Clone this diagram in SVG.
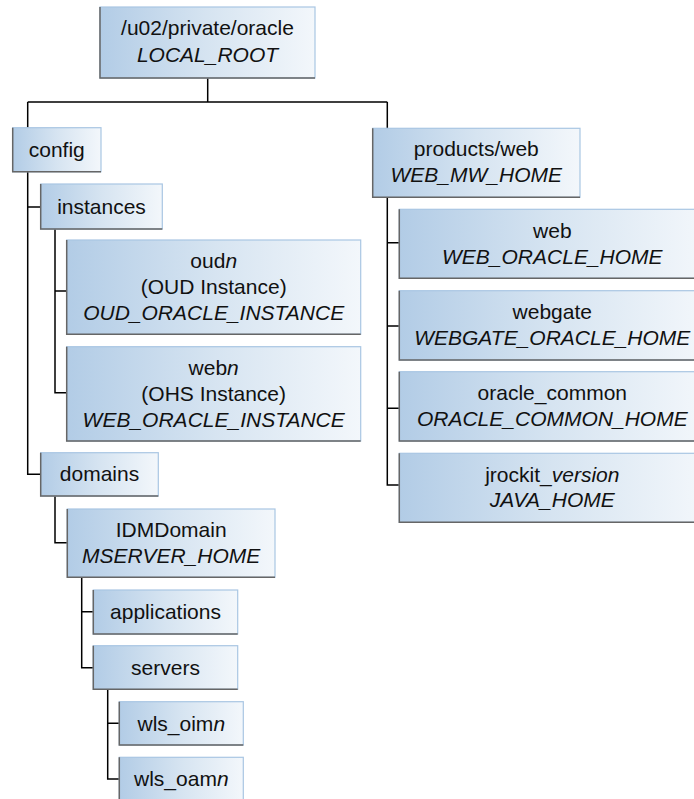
<svg xmlns="http://www.w3.org/2000/svg" width="694" height="799" viewBox="0 0 694 799">
<defs>
<linearGradient id="g" x1="0" y1="0" x2="1" y2="0">
<stop offset="0" stop-color="#b2cce6"/>
<stop offset="0.5" stop-color="#d6e4f1"/>
<stop offset="1" stop-color="#f3f7fb"/>
</linearGradient>
</defs>
<style>
.box rect{fill:url(#g);stroke:#a9c6e3;stroke-width:1.2}
.box path{fill:none;stroke:#666;stroke-width:1.5}
text{font-family:"Liberation Sans",Arial,sans-serif;font-size:21px;fill:#111;text-anchor:middle}
.i{font-style:italic}
#connectors path{fill:none;stroke:#000;stroke-width:1.5}
</style>
<g id="connectors">
<path d="M207.7,78V102M27.7,102H387.3"/>
<path d="M27.7,102V474.3H40.7M27.7,207H40.7"/>
<path d="M55,229V392.7H66.7M55,291H66.7"/>
<path d="M55,496V542.7H67.3"/>
<path d="M81.7,577V667.7H93.3M81.7,611.7H93.3"/>
<path d="M107.7,689V779H119.3M107.7,723.3H119.3"/>
<path d="M387.3,102V485H399.3M387.3,242.7H399.3M387.3,326H399.3M387.3,408.3H399.3"/>
</g>
<g id="root" class="box"><rect x="100" y="7" width="215" height="71"/><path d="M100,7V78H315"/><text x="207.5" y="35">/u02/private/oracle</text><text x="207.5" y="62" class="i">LOCAL_ROOT</text></g>
<g id="config" class="box"><rect x="12.7" y="127.7" width="88.3" height="44"/><path d="M12.7,127.7V171.7H101"/><text x="56.8" y="157">config</text></g>
<g id="instances" class="box"><rect x="40.7" y="184" width="121.6" height="45"/><path d="M40.7,184V229H162.3"/><text x="101.5" y="214">instances</text></g>
<g id="oud" class="box"><rect x="66.7" y="240" width="294" height="94.3"/><path d="M66.7,240V334.3H360.7"/><text x="213.7" y="268">oud<tspan class="i">n</tspan></text><text x="213.7" y="294">(OUD Instance)</text><text x="213.7" y="319.5" class="i">OUD_ORACLE_INSTANCE</text></g>
<g id="webinst" class="box"><rect x="66.7" y="346.7" width="294" height="94.3"/><path d="M66.7,346.7V441H360.7"/><text x="213.7" y="375">web<tspan class="i">n</tspan></text><text x="213.7" y="401">(OHS Instance)</text><text x="213.7" y="427" class="i">WEB_ORACLE_INSTANCE</text></g>
<g id="domains" class="box"><rect x="40.7" y="452.7" width="117.6" height="43.3"/><path d="M40.7,452.7V496H158.3"/><text x="99.5" y="481">domains</text></g>
<g id="idmdomain" class="box"><rect x="67.3" y="509" width="207.7" height="68.3"/><path d="M67.3,509V577.3H275"/><text x="171.2" y="537">IDMDomain</text><text x="171.2" y="563" class="i">MSERVER_HOME</text></g>
<g id="applications" class="box"><rect x="93.3" y="590" width="144.4" height="44"/><path d="M93.3,590V634H237.7"/><text x="165.5" y="619">applications</text></g>
<g id="servers" class="box"><rect x="93.3" y="645.7" width="144.4" height="43.6"/><path d="M93.3,645.7V689.3H237.7"/><text x="165.5" y="675">servers</text></g>
<g id="wlsoim" class="box"><rect x="119.3" y="701.7" width="124" height="43.3"/><path d="M119.3,701.7V745H243.3"/><text x="181.3" y="730.5">wls_oim<tspan class="i">n</tspan></text></g>
<g id="wlsoam" class="box"><rect x="119.3" y="757.3" width="124" height="44"/><path d="M119.3,757.3V801.3H243.3"/><text x="181.3" y="786">wls_oam<tspan class="i">n</tspan></text></g>
<g id="products" class="box"><rect x="372.7" y="128.3" width="207.3" height="69"/><path d="M372.7,128.3V197.3H580"/><text x="476.3" y="156">products/web</text><text x="476.3" y="182" class="i">WEB_MW_HOME</text></g>
<g id="web" class="box"><rect x="399.3" y="209.3" width="306" height="69"/><path d="M399.3,209.3V278.3H705.3"/><text x="552.3" y="237.5">web</text><text x="552.3" y="263.5" class="i">WEB_ORACLE_HOME</text></g>
<g id="webgate" class="box"><rect x="399.3" y="290.7" width="306" height="69.3"/><path d="M399.3,290.7V360H705.3"/><text x="552.3" y="318.5">webgate</text><text x="552.3" y="344.5" class="i">WEBGATE_ORACLE_HOME</text></g>
<g id="oraclecommon" class="box"><rect x="399.3" y="371.7" width="306" height="69.3"/><path d="M399.3,371.7V441H705.3"/><text x="552.3" y="400">oracle_common</text><text x="552.3" y="425.5" class="i">ORACLE_COMMON_HOME</text></g>
<g id="jrockit" class="box"><rect x="399.3" y="453.3" width="306" height="69"/><path d="M399.3,453.3V522.3H705.3"/><text x="552.3" y="482">jrockit_<tspan class="i">version</tspan></text><text x="552.3" y="507" class="i">JAVA_HOME</text></g>
</svg>
